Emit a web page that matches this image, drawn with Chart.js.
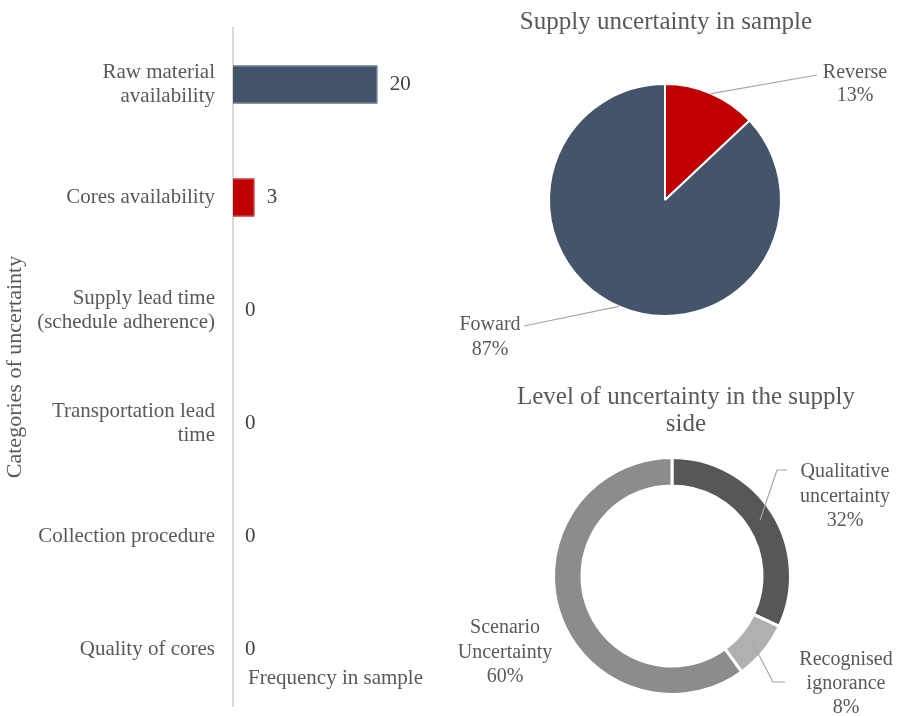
<!DOCTYPE html>
<html>
<head>
<meta charset="utf-8">
<script src="https://cdn.jsdelivr.net/npm/chart.js@4.4.1/dist/chart.umd.min.js"></script>
<style>
    html, body { margin: 0; padding: 0; background: #fff; }
    #page { position: relative; width: 907px; height: 716px; }
    .panel { position: absolute; }
    #barsBox { left: 0; top: 0; width: 450px; height: 716px; }
    #supplyBox { left: 450px; top: 0; width: 457px; height: 370px; }
    #levelBox { left: 450px; top: 370px; width: 457px; height: 346px; }
</style>
</head>
<body>
<div id="page">
    <div class="panel" id="barsBox"><canvas id="bars"></canvas></div>
    <div class="panel" id="supplyBox"><canvas id="supply"></canvas></div>
    <div class="panel" id="levelBox"><canvas id="level"></canvas></div>
</div>
<script>
// categories of uncertainty and how often each shows up
const categories = [
    ['Raw material', 'availability'],
    'Cores availability',
    ['Supply lead time', '(schedule adherence)'],
    ['Transportation lead', 'time'],
    'Collection procedure',
    'Quality of cores'
];
const frequency = [20, 3, 0, 0, 0, 0];

// supply uncertainty split
const supplyLabels = ['Reverse', 'Foward'];
const supplyShare = [13, 87];

// level of uncertainty on the supply side
const levelLabels = [['Qualitative', 'uncertainty'], ['Recognised', 'ignorance'], ['Scenario', 'Uncertainty']];
const levelShare = [32, 8, 60];

const SERIF = '"Liberation Serif", "Times New Roman", serif';
const GREY = '#595959';
const NAVY = '#44546a';
const RED = '#c00000';

Chart.defaults.font.family = SERIF;
Chart.defaults.color = GREY;
Chart.defaults.animation = false;

// value at the end of each bar + the axis caption inside the plot
const barNotes = {
    id: 'barNotes',
    afterDatasetsDraw(chart) {
        const ctx = chart.ctx;
        const meta = chart.getDatasetMeta(0);
        ctx.save();
        ctx.font = '21px ' + SERIF;
        ctx.fillStyle = '#404040';
        ctx.textBaseline = 'middle';
        ctx.textAlign = 'left';
        meta.data.forEach((bar, i) => {
            ctx.fillText(chart.data.datasets[0].data[i], bar.x + 12, bar.y);
        });
        ctx.fillStyle = GREY;
        ctx.fillText('Frequency in sample', chart.chartArea.left + 15, chart.chartArea.bottom - 28);
        ctx.restore();
    }
};

// titles drawn at a fixed spot of each panel
const panelTitle = {
    id: 'panelTitle',
    afterDraw(chart, args, opts) {
        if (!opts.lines) return;
        const ctx = chart.ctx;
        ctx.save();
        ctx.font = '25px ' + SERIF;
        ctx.fillStyle = GREY;
        ctx.textAlign = 'center';
        ctx.textBaseline = 'middle';
        opts.lines.forEach((t, i) => ctx.fillText(t, opts.x, opts.y + i * opts.step));
        ctx.restore();
    }
};

// category name + percentage next to each slice, with a leader line
const sliceLabels = {
    id: 'sliceLabels',
    afterDatasetsDraw(chart, args, opts) {
        if (!opts.items) return;
        const ctx = chart.ctx;
        const meta = chart.getDatasetMeta(0);
        const values = chart.data.datasets[0].data;
        const total = values.reduce((a, b) => a + b, 0);
        ctx.save();
        ctx.font = '20px ' + SERIF;
        ctx.fillStyle = GREY;
        ctx.textAlign = 'center';
        ctx.textBaseline = 'middle';
        opts.items.forEach((it, i) => {
            const arc = meta.data[i];
            const cx = arc.x, cy = arc.y;
            if (it.path) {
                const mid = (arc.startAngle + arc.endAngle) / 2;
                const r = arc.innerRadius > 0 ? (arc.innerRadius + arc.outerRadius) / 2 : arc.outerRadius;
                ctx.beginPath();
                ctx.strokeStyle = '#a6a6a6';
                ctx.lineWidth = 1.2;
                ctx.moveTo(cx + Math.cos(mid) * r, cy + Math.sin(mid) * r);
                it.path.forEach(p => ctx.lineTo(cx + p[0], cy + p[1]));
                ctx.stroke();
            }
            const name = [].concat(chart.data.labels[i]);
            const lines = name.concat(Math.round(values[i] / total * 100) + '%');
            lines.forEach((t, k) => ctx.fillText(t, cx + it.x, cy + it.y + k * it.step));
        });
        ctx.restore();
    }
};

new Chart(document.getElementById('bars'), {
    type: 'bar',
    data: {
        labels: categories,
        datasets: [{
            data: frequency,
            backgroundColor: [NAVY, RED, NAVY, NAVY, NAVY, NAVY],
            borderColor: ['#3b4a5e', '#a80000', NAVY, NAVY, NAVY, NAVY],
            borderWidth: 1,
            categoryPercentage: 1,
            barPercentage: 0.34
        }]
    },
    options: {
        indexAxis: 'y',
        responsive: true,
        maintainAspectRatio: false,
        layout: { padding: { top: 28, bottom: 10, right: 0 } },
        plugins: { legend: { display: false }, tooltip: { enabled: false } },
        scales: {
            x: { display: false, min: 0, max: 30 },
            y: {
                afterFit(scale) {
                    // fixed gutter for the labels, no extra room above/below the plot
                    scale.width = 233;
                    scale.paddingTop = 0;
                    scale.paddingBottom = 0;
                },
                grid: { display: false, drawTicks: false },
                border: { display: true, color: '#d9d9d9', width: 2 },
                ticks: {
                    padding: 18,
                    color: GREY,
                    font: { size: 21, lineHeight: 1.15 }
                },
                title: {
                    display: true,
                    text: 'Categories of uncertainty',
                    color: GREY,
                    font: { size: 22 },
                    padding: { top: 2, bottom: 0 }
                }
            }
        }
    },
    plugins: [barNotes]
});

new Chart(document.getElementById('supply'), {
    type: 'pie',
    data: {
        labels: supplyLabels,
        datasets: [{
            data: supplyShare,
            backgroundColor: [RED, NAVY],
            borderColor: '#ffffff',
            borderWidth: 2
        }]
    },
    options: {
        responsive: true,
        maintainAspectRatio: false,
        layout: { padding: { left: 98, right: 125, top: 83, bottom: 53 } },
        plugins: {
            legend: { display: false },
            tooltip: { enabled: false },
            panelTitle: { lines: ['Supply uncertainty in sample'], x: 216, y: 22, step: 0 },
            sliceLabels: {
                items: [
                    { x: 190, y: -127, step: 23, path: [[152, -125]] },
                    { x: -175, y: 125, step: 25, path: [[-141, 126]] }
                ]
            }
        }
    },
    plugins: [panelTitle, sliceLabels]
});

new Chart(document.getElementById('level'), {
    type: 'doughnut',
    data: {
        labels: levelLabels,
        datasets: [{
            data: levelShare,
            backgroundColor: ['#575757', '#b0b0b0', '#8c8c8c'],
            borderColor: '#ffffff',
            borderWidth: 3
        }]
    },
    options: {
        responsive: true,
        maintainAspectRatio: false,
        cutout: '76%',
        layout: { padding: { left: 102, right: 115, top: 86, bottom: 20 } },
        plugins: {
            legend: { display: false },
            tooltip: { enabled: false },
            panelTitle: { lines: ['Level of uncertainty in the supply', 'side'], x: 236, y: 27, step: 27 },
            sliceLabels: {
                items: [
                    { x: 173, y: -104, step: 24.5, path: [[105, -106], [115, -106]] },
                    { x: 174, y: 84, step: 24, path: [[101, 106], [113, 106]] },
                    { x: -167, y: 52, step: 24.5 }
                ]
            }
        }
    },
    plugins: [panelTitle, sliceLabels]
});
</script>
</body>
</html>
